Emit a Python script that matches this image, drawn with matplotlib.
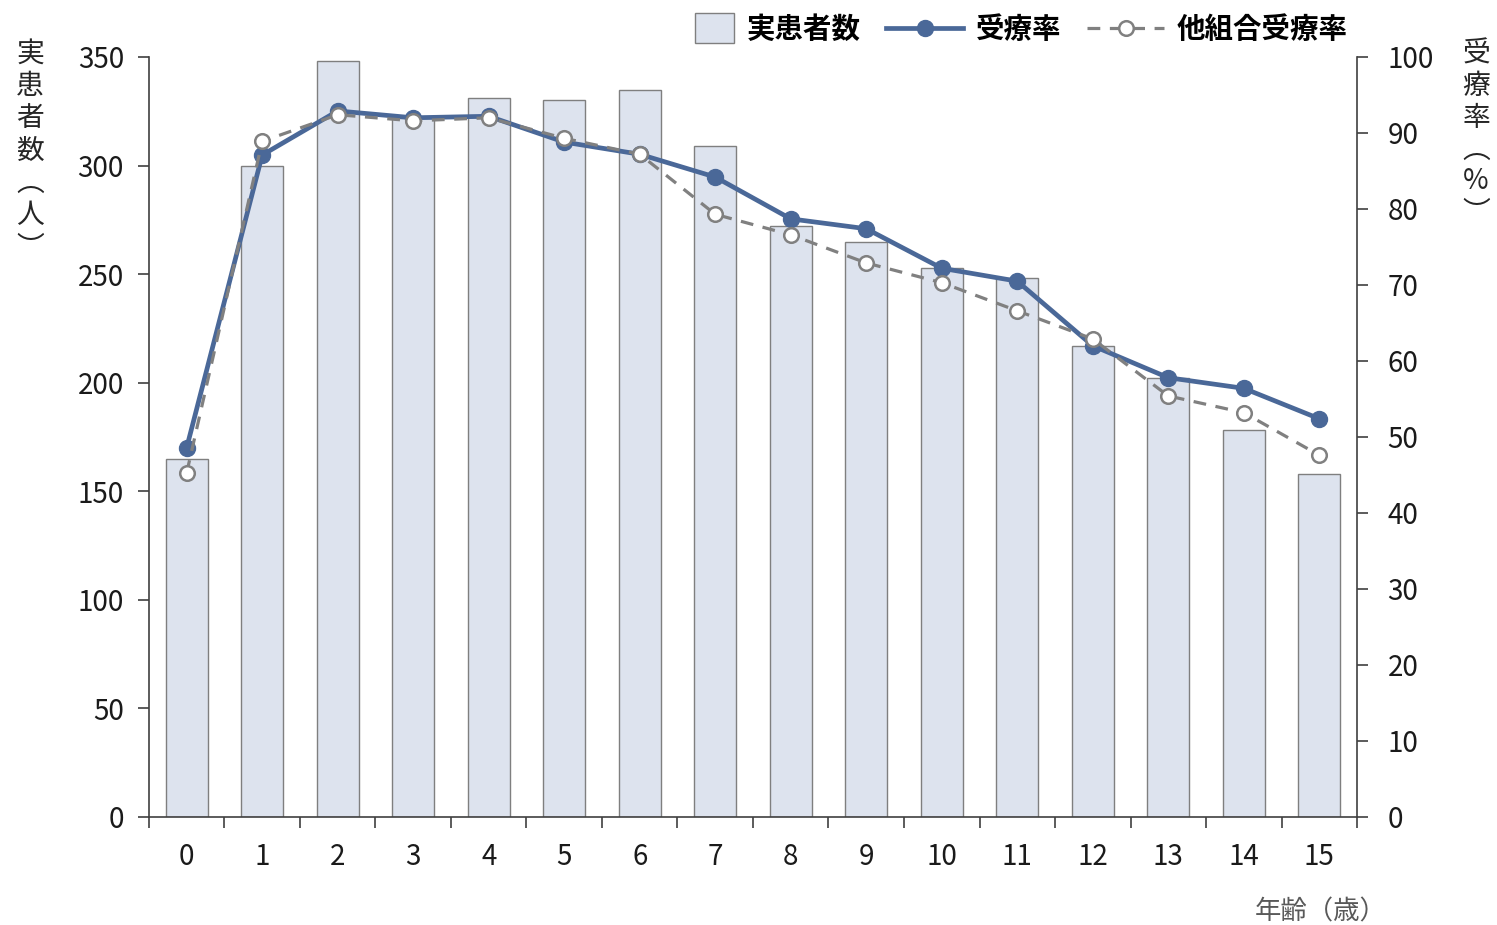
import matplotlib
matplotlib.use("Agg")
import matplotlib.pyplot as plt
from matplotlib.patches import Rectangle
from matplotlib.legend_handler import HandlerPatch
import numpy as np

plt.rcParams['font.family'] = ['Noto Sans CJK JP', 'DejaVu Sans']

# data
ages = list(range(16))
age_labels = [str(a) for a in ages]
patients = [165, 300, 348, 322, 331, 330, 335, 309, 272, 265, 253, 248, 217, 202, 178, 158]
rate = [48.6, 87.1, 92.9, 92.0, 92.2, 88.8, 87.2, 84.2, 78.7, 77.4, 72.2, 70.5, 62.0, 57.8, 56.4, 52.4]
rate_other = [45.3, 88.9, 92.4, 91.6, 92.0, 89.3, 87.2, 79.3, 76.6, 72.9, 70.3, 66.6, 62.9, 55.4, 53.2, 47.6]

bar_color = '#DDE3EE'
bar_edge = '#7F7F7F'
blue = '#4A6898'
grey = '#808080'
fs = 20


def square_patch(legend, orig_handle, xdescent, ydescent, width, height, fontsize):
    # square-ish box for the bar entry, sitting next to its text
    side = height * 1.5
    w = side * 1.3
    return Rectangle((-xdescent + width - w, -ydescent + (height - side) / 2),
                     w, side)


fig = plt.figure(figsize=(14.97, 9.25), dpi=100)
ax = fig.add_axes([0.0995, 0.1168, 0.807, 0.8216])
ax2 = ax.twinx()

x = np.arange(len(ages))
ax.bar(x, patients, width=0.56, color=bar_color, edgecolor=bar_edge,
       linewidth=1.0, zorder=2)

line1, = ax2.plot(x, rate, color=blue, linewidth=3.4, marker='o', markersize=11.5,
                  markerfacecolor=blue, markeredgecolor=blue, label='受療率', zorder=3)
line2, = ax2.plot(x, rate_other, color=grey, linewidth=2.3, linestyle=(0, (4, 3)),
                  marker='o', markersize=10.5, markerfacecolor='white',
                  markeredgecolor=grey, markeredgewidth=1.8, label='他組合受療率', zorder=4)

ax.set_xlim(-0.5, 15.5)
ax.set_ylim(0, 350)
ax2.set_ylim(0, 100)

ax.set_yticks(range(0, 351, 50))
ax2.set_yticks(range(0, 101, 10))
ax.set_xticks(x)
ax.set_xticklabels(age_labels)
ax.set_xticks(np.arange(-0.5, 16, 1), minor=True)

for a in (ax, ax2):
    a.spines['top'].set_visible(False)
    for s in a.spines.values():
        s.set_color('#404040')
        s.set_linewidth(1.2)

ax.spines['right'].set_visible(False)
ax2.spines['left'].set_visible(False)
ax2.spines['bottom'].set_visible(False)

ax.tick_params(axis='x', which='major', length=0, labelsize=fs, pad=18, colors='#1a1a1a')
ax.tick_params(axis='x', which='minor', length=8, width=1.2, color='#404040')
ax.tick_params(axis='y', length=8, width=1.2, color='#404040', labelsize=fs, pad=10,
               labelcolor='#1a1a1a')
ax2.tick_params(axis='y', length=8, width=1.2, color='#404040', labelsize=fs, pad=14,
                labelcolor='#1a1a1a')

# vertical axis titles
fig.text(0.020, 0.958, '実\n患\n者\n数\n︵\n人\n︶', ha='center', va='top',
         fontsize=fs, linespacing=1.1, color='#262626')
fig.text(0.986, 0.958, '受\n療\n率\n︵\n%\n︶', ha='center', va='top',
         fontsize=fs, linespacing=1.08, color='#262626')
fig.text(0.926, 0.0, '年齢（歳）', ha='right', va='bottom', fontsize=fs - 1,
         color='#595959')

bar_handle = Rectangle((0, 0), 1, 1, facecolor=bar_color, edgecolor=bar_edge,
                       linewidth=1.0, label='実患者数')
leg = fig.legend(handles=[bar_handle, line1, line2], loc='upper right',
                 bbox_to_anchor=(0.9175, 1.01), ncol=3, frameon=False,
                 prop={'size': fs + 0.5, 'weight': 'bold'}, handlelength=2.7,
                 columnspacing=0.9, handletextpad=0.45,
                 handler_map={bar_handle: HandlerPatch(patch_func=square_patch)})

fig.savefig('out.png', dpi=100)
